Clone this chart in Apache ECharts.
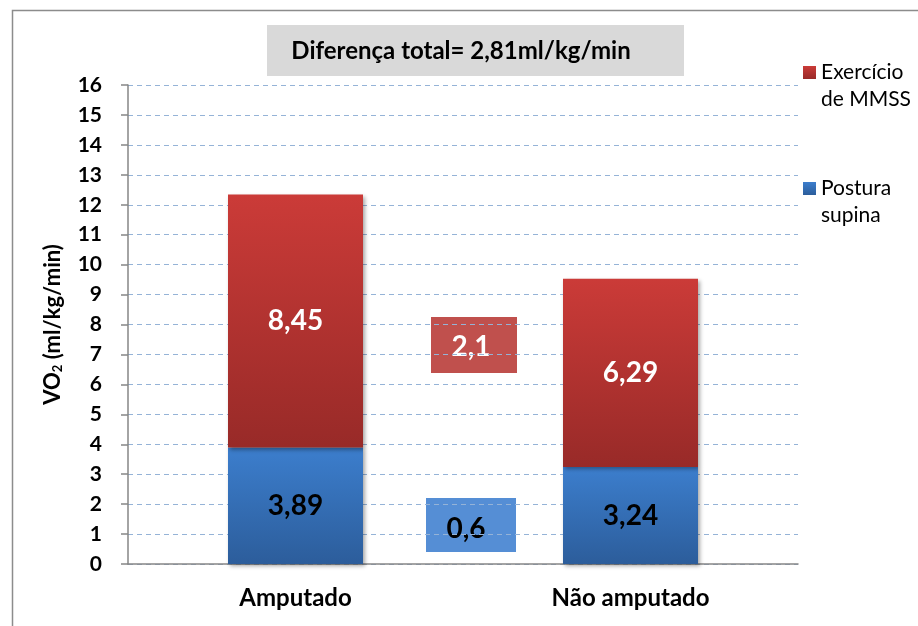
<!DOCTYPE html>
<html>
<head>
<meta charset="utf-8">
<script src="https://cdn.jsdelivr.net/npm/echarts@6/dist/echarts.min.js"></script>
<style>
  html, body { margin: 0; padding: 0; background: #fff; }
  #chart { width: 918px; height: 626px; }
</style>
</head>
<body>
<div id="chart"></div>
<script>
// dados
var categorias = ['Amputado', 'Não amputado'];
var posturaSupina = [3.89, 3.24];
var exercicioMMSS = [8.45, 6.29];
var diferencaExercicio = '2,1';
var diferencaPostura = '0,6';
var diferencaTotal = 'Diferença total= 2,81ml/kg/min';
var yMin = 0, yMax = 16, yStep = 1;

var FONT = 'Lato';

function virgula(p) {
	return String(p.value).replace('.', ',');
}

function gradiente(topo, base) {
	return new echarts.graphic.LinearGradient(0, 0, 0, 1, [
		{ offset: 0, color: topo },
		{ offset: 1, color: base }
	]);
}

var myChart = echarts.init(document.getElementById('chart'));

myChart.setOption({
	animation: false,
	grid: { left: 128, right: 120, top: 85, bottom: 62 },
	legend: {
		orient: 'vertical',
		left: 798,
		top: 27,
		itemWidth: 13,
		itemHeight: 13,
		itemGap: 35,
		icon: 'rect',
		data: ['Exercício\nde MMSS', 'Postura\nsupina'],
		// linha vazia em cima para o quadrado ficar na 1a linha
		formatter: function (nome) { return ' \n' + nome; },
		textStyle: {
			fontFamily: FONT, fontSize: 21, color: '#000', lineHeight: 27
		}
	},
	xAxis: {
		type: 'category',
		data: categorias,
		axisLine: { lineStyle: { color: '#868686', width: 1.5 } },
		axisTick: { length: 8, lineStyle: { color: '#868686', width: 1.5 } },
		axisLabel: { margin: 22, fontFamily: FONT, fontSize: 24, fontWeight: 'bold', color: '#000' }
	},
	yAxis: {
		type: 'value',
		min: yMin, max: yMax, interval: yStep,
		name: '{a|VO}{s|2}{a| (ml/kg/min)}',
		nameLocation: 'middle',
		nameGap: 64,
		nameRotate: 90,
		nameTextStyle: {
			rich: {
				a: { fontFamily: FONT, fontSize: 22, fontWeight: 'bold', color: '#000' },
				s: { fontFamily: FONT, fontSize: 13, fontWeight: 'bold', color: '#000', padding: [9, 0, 0, 0] }
			}
		},
		axisLine: { show: true, lineStyle: { color: '#868686', width: 1.5 } },
		axisTick: { show: true, length: 7, lineStyle: { color: '#868686', width: 1.5 } },
		axisLabel: { margin: 26, fontFamily: FONT, fontSize: 21, fontWeight: 'bold', color: '#000' },
		splitLine: { lineStyle: { color: '#95B3D7', type: [5, 4], width: 1 } }
	},
	series: [
		{
			name: 'Postura\nsupina',
			type: 'bar',
			stack: 'vo2',
			barWidth: 135,
			data: posturaSupina,
			itemStyle: {
				color: gradiente('#3C7ECD', '#2C5D9B'),
				shadowColor: 'rgba(0,0,0,0.35)', shadowBlur: 4, shadowOffsetX: 2, shadowOffsetY: 2
			},
			label: {
				show: true, position: 'inside', formatter: virgula,
				fontFamily: FONT, fontSize: 28, fontWeight: 'bold', color: '#000'
			}
		},
		{
			name: 'Exercício\nde MMSS',
			type: 'bar',
			stack: 'vo2',
			barWidth: 135,
			data: exercicioMMSS,
			itemStyle: {
				color: gradiente('#CB3B38', '#982A28'),
				shadowColor: 'rgba(0,0,0,0.35)', shadowBlur: 4, shadowOffsetX: 2, shadowOffsetY: 2
			},
			label: {
				show: true, position: 'inside', formatter: virgula,
				fontFamily: FONT, fontSize: 28, fontWeight: 'bold', color: '#fff'
			}
		}
	],
	graphic: [
		// moldura
		{ type: 'rect', left: 10, top: 8, shape: { width: 940, height: 660 },
		  style: { fill: 'none', stroke: '#8c8c8c', lineWidth: 1.5 }, silent: true },
		// caixa do título
		{ type: 'rect', left: 267, top: 25, shape: { width: 417, height: 51 },
		  style: { fill: '#D9D9D9' } },
		{ type: 'text', x: 461, y: 51,
		  style: { text: diferencaTotal, align: 'center', verticalAlign: 'middle',
		    font: 'bold 24px ' + FONT, fill: '#000' } },
		// caixas de diferença
		{ type: 'rect', left: 431, top: 317, shape: { width: 86, height: 56 },
		  style: { fill: '#C0504D' } },
		{ type: 'text', x: 471, y: 347,
		  style: { text: diferencaExercicio, align: 'center', verticalAlign: 'middle',
		    font: 'bold 28px ' + FONT, fill: '#fff' } },
		{ type: 'rect', left: 426, top: 498, shape: { width: 90, height: 54 },
		  style: { fill: '#558ED5' } },
		{ type: 'text', x: 466, y: 529,
		  style: { text: diferencaPostura, align: 'center', verticalAlign: 'middle',
		    font: 'bold 28px ' + FONT, fill: '#000' } }
	]
});
</script>
</body>
</html>
